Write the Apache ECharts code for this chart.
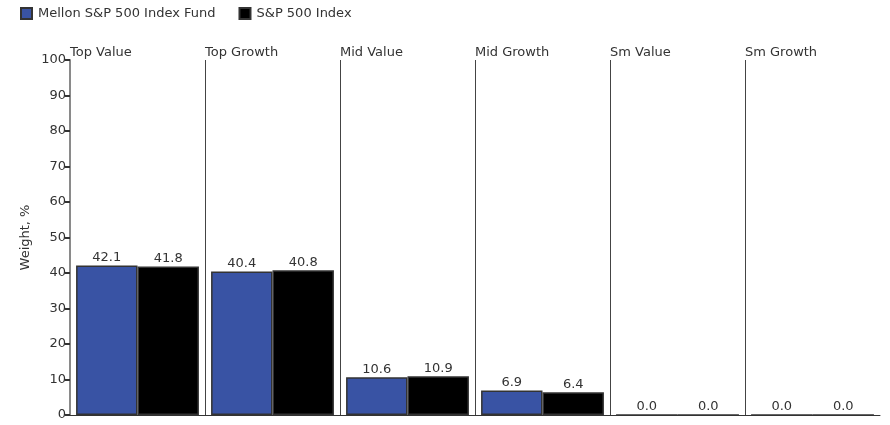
<!DOCTYPE html>
<html><head><meta charset="utf-8">
<script src="https://cdn.jsdelivr.net/npm/echarts@6/dist/echarts.min.js"></script>
<style>html,body{margin:0;padding:0;background:#fff}#c{width:890px;height:425px}</style>
</head><body><div id="c"></div>
<script>
var categories = ['Top Value','Top Growth','Mid Value','Mid Growth','Sm Value','Sm Growth'];
var fundValues = [42.1, 40.4, 10.6, 6.9, 0.0, 0.0];
var indexValues = [41.8, 40.8, 10.9, 6.4, 0.0, 0.0];
var seriesNames = ['Mellon S&P 500 Index Fund', 'S&P 500 Index'];
var yTicks = [0,10,20,30,40,50,60,70,80,90,100];

var FONT = 'DejaVu Sans';
var chart = echarts.init(document.getElementById('c'));
var labelCfg = {show:true, position:'top', distance:1, color:'#333', fontFamily:FONT, fontSize:13,
  formatter:function(p){return p.value.toFixed(1);}};
chart.setOption({
  animation:false,
  textStyle:{fontFamily:FONT},
  legend:{left:15, top:2, itemWidth:11, itemHeight:11, itemGap:23,
    textStyle:{fontFamily:FONT, fontSize:13, color:'#333', padding:[0,0,0,1]},
    data:seriesNames.map(function(n){return {name:n, icon:'rect'};})},
  grid:{left:70, right:10, top:60, bottom:10},
  xAxis:[{type:'category', data:categories, position:'bottom',
    axisLine:{show:true, lineStyle:{color:'#333', width:1}},
    axisTick:{show:false}, axisLabel:{show:false}, splitLine:{show:false}},
   {type:'value', min:0, max:categories.length, interval:1, position:'top',
    axisLine:{show:false}, axisTick:{show:false},
    axisLabel:{show:true, align:'left', margin:1, color:'#333', fontFamily:FONT, fontSize:13,
      formatter:function(v){return categories[v] || '';}},
    splitLine:{show:true, showMinLine:false, showMaxLine:false, lineStyle:{color:'#444', width:1}}}],
  yAxis:{type:'value', min:0, max:100, interval:10,
    name:'Weight, %', nameLocation:'middle', nameGap:38, nameMoveOverlap:false,
    nameTextStyle:{fontFamily:FONT, fontSize:13, color:'#333'},
    axisLine:{show:true, lineStyle:{color:'#8a8a8a', width:2}},
    axisTick:{show:true, length:5, lineStyle:{color:'#333', width:2}},
    axisLabel:{color:'#333', fontFamily:FONT, fontSize:13, margin:4},
    splitLine:{show:false}},
  series:[
    {name:seriesNames[0], type:'bar', data:fundValues, barGap:'0%', barCategoryGap:'9%',
     itemStyle:{color:'#3953a4', borderColor:'#333', borderWidth:1.5}, label:labelCfg},
    {name:seriesNames[1], type:'bar', data:indexValues, barGap:'0%', barCategoryGap:'9%',
     itemStyle:{color:'#000', borderColor:'#333', borderWidth:1.5}, label:labelCfg}
  ]
});
</script></body></html>
